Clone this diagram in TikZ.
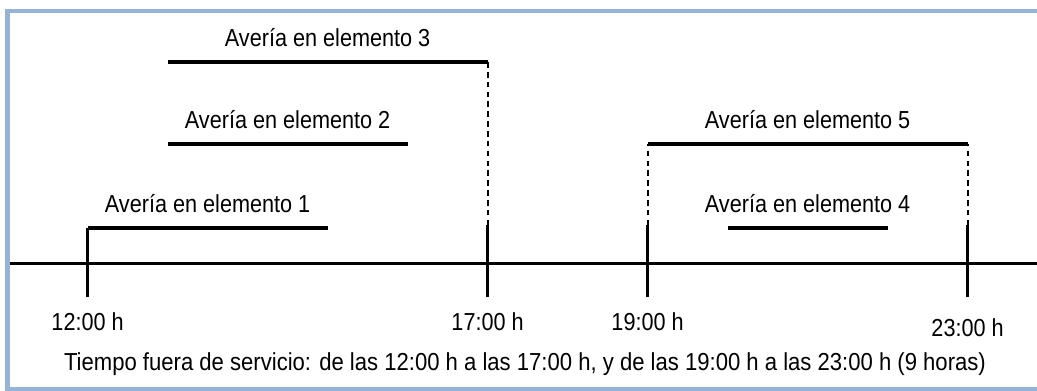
\documentclass[tikz,border=0pt]{standalone}
\usepackage{fontspec}
\setmainfont{Liberation Sans}
\definecolor{framecol}{RGB}{149,179,215}
\begin{document}
\begin{tikzpicture}[axisline/.style={line width=2.3pt},barline/.style={line width=2.3pt},tickline/.style={line width=1.6pt},guideline/.style={line width=1.4pt,dash pattern=on 4pt off 3pt},txt/.style={inner sep=0pt,anchor=base,xscale=.88,font=\fontsize{17.5}{21}\selectfont}]
\def\hour{2};\def\start{2.19};\def\axisy{3.17};\def\tickbot{2.33};\def\tickup{4.12};
\def\lowy{4.05};\def\midy{6.15};\def\highy{8.2};\def\gap{.38};\def\timey{1.5};

\useasboundingbox (0,0) rectangle (25.925,9.75);
\draw[framecol,line width=3pt] (25.925,9.475)--(0.1875,9.475)--(0.1875,0.02)--(25.925,0.02);

\coordinate (axis_l) at (0.25,\axisy);
\coordinate (axis_r) at (25.925,\axisy);

\coordinate (tick_12) at (\start,\tickbot);
\coordinate (tick_17) at (\start+5*\hour,\tickbot);
\coordinate (tick_19) at (\start+7*\hour,\tickbot);
\coordinate (tick_23) at (\start+11*\hour,\tickbot);
\coordinate (up_17) at (\start+5*\hour,\tickup);
\coordinate (up_19) at (\start+7*\hour,\tickup);
\coordinate (up_23) at (\start+11*\hour,\tickup);

\coordinate (bar1_s) at (\start,\lowy);
\coordinate (bar1_e) at (\start+3*\hour,\lowy);
\coordinate (bar2_s) at (\start+\hour,\midy);
\coordinate (bar2_e) at (\start+4*\hour,\midy);
\coordinate (bar3_s) at (\start+\hour,\highy);
\coordinate (bar3_e) at (\start+5*\hour,\highy);
\coordinate (bar4_s) at (\start+8*\hour,\lowy);
\coordinate (bar4_e) at (\start+10*\hour,\lowy);
\coordinate (bar5_s) at (\start+7*\hour,\midy);
\coordinate (bar5_e) at (\start+11*\hour,\midy);

\draw[axisline] (axis_l)--(axis_r);

\draw[tickline] (tick_17)--(up_17);
\draw[tickline] (tick_19)--(up_19);
\draw[tickline] (tick_23)--(up_23);
\draw[guideline] (up_17)--(bar3_e);
\draw[guideline] (up_19)--(bar5_s);
\draw[guideline] (up_23)--(bar5_e);

\draw[tickline] (tick_12)--(bar1_s);
\draw[barline] (bar1_s)--(bar1_e);
\draw[barline] (bar2_s)--(bar2_e);
\draw[barline] (bar3_s)--(bar3_e);
\draw[barline] (bar4_s)--(bar4_e);
\draw[barline] (bar5_s)--(bar5_e);

\node[txt] (lbl_1) at (\start+1.5*\hour,\lowy+\gap) {Avería en elemento 1};
\node[txt] (lbl_2) at (\start+2.5*\hour,\midy+\gap) {Avería en elemento 2};
\node[txt] (lbl_3) at (\start+3*\hour,\highy+\gap) {Avería en elemento 3};
\node[txt] (lbl_4) at (\start+9*\hour,\lowy+\gap) {Avería en elemento 4};
\node[txt] (lbl_5) at (\start+9*\hour,\midy+\gap) {Avería en elemento 5};

\node[txt] (time_12) at (\start,\timey) {12:00 h};
\node[txt] (time_17) at (\start+5*\hour,\timey) {17:00 h};
\node[txt] (time_19) at (\start+7*\hour,\timey) {19:00 h};
\node[txt] (time_23) at (\start+11*\hour,\timey-.17) {23:00 h};

\node[txt,xscale=1.02] (caption) at (13.125,0.5) {Tiempo fuera de servicio: de las 12:00 h a las 17:00 h, y de las 19:00 h a las 23:00 h (9 horas)};
\end{tikzpicture}
\end{document}
